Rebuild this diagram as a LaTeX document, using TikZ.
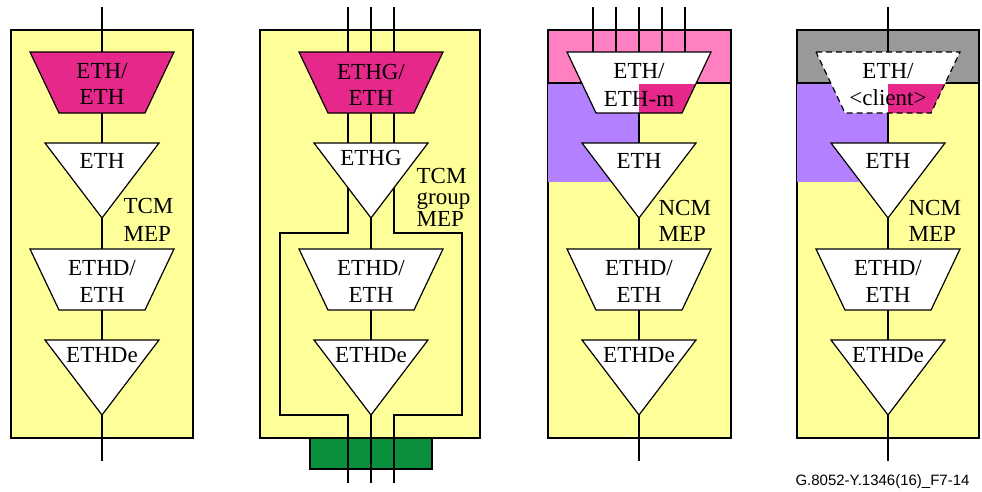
\documentclass[tikz,border=0pt]{standalone}
\usepackage{fontspec}
\setmainfont{Liberation Serif}
\newfontfamily\capfont{Liberation Sans}
\definecolor{panelyellow}{HTML}{FFFF99}
\definecolor{adaptpink}{HTML}{E6288A}
\definecolor{bandpink}{HTML}{FF80C0}
\definecolor{regionpurple}{HTML}{B380FF}
\definecolor{bandgray}{HTML}{999999}
\definecolor{portgreen}{HTML}{0A8F3C}
\newcommand\trapshape[2]{({#1-72},#2) -- ({#1+72},#2) -- ({#1+43},{#2+61}) -- ({#1-43},{#2+61}) -- cycle}
\newcommand\trishape[2]{({#1-57},#2) -- ({#1+57},#2) -- (#1,{#2+75}) -- cycle}
\begin{document}
\begin{tikzpicture}[x=1pt,y=-1pt,line width=1.2pt,
  panel/.style={fill=panelyellow,draw=black},
  wire/.style={draw=black},
  shapebox/.style={draw=black,fill=white},
  lbl/.style={font=\fontsize{23}{23}\selectfont,inner sep=0pt,anchor=base},
  side/.style={font=\fontsize{23}{23}\selectfont,inner sep=0pt,anchor=base west},
  dashline/.style={dash pattern=on 6pt off 4pt}]
\useasboundingbox (0,0) rectangle (982,491);

% panels
\path[panel] (11,30) rectangle (193,438);
\path[panel] (260,30) rectangle (480,438);
\path[panel] (548,30) rectangle (731,438);
\path[panel] (797,30) rectangle (979,438);

% bands and regions
\path[fill=bandpink,draw=black] (548,30) rectangle (731,83);
\fill[regionpurple] (548,84) rectangle (639,182);
\path[fill=bandgray,draw=black] (797,30) rectangle (979,83);
\fill[regionpurple] (797,84) rectangle (888,182);
\path[fill=portgreen,draw=black] (310,438) rectangle (432,469);

% free wire ends
\foreach \cx/\n in {102/a,639/c,888/d}{
  \coordinate (\n top) at (\cx,7);
  \coordinate (\n bot) at (\cx,461);
  \draw[wire] (\n top) -- (\n bot);
}
\coordinate (btop) at (371,7);
\coordinate (bbot) at (371,483);
\draw[wire] (btop) -- (bbot);
% panel 2 group wires
\coordinate (bltop) at (348,7);
\coordinate (blbot) at (348,483);
\coordinate (brtop) at (394,7);
\coordinate (brbot) at (394,483);
\draw[wire] (bltop) -- (348,233) -- (280,233) -- (280,415) -- (348,415) -- (blbot);
\draw[wire] (brtop) -- (394,233) -- (462,233) -- (462,415) -- (394,415) -- (brbot);
% panel 3 extra wires
\foreach \x in {593,616,662,685}{
  \coordinate (w\x) at (\x,7);
  \coordinate (v\x) at (\x,52);
  \draw[wire] (w\x) -- (v\x);
}

% top adaptation functions
\path[shapebox,fill=adaptpink] \trapshape{102}{52};
\node[lbl] (a1) at (102,78) {ETH/};
\node[lbl] (a2) at (102,104) {ETH};
\path[shapebox,fill=adaptpink] \trapshape{371}{52};
\node[lbl] (b1) at (371,79) {ETHG/};
\node[lbl] (b2) at (371,105) {ETH};

\path[fill=white] \trapshape{639}{52};
\begin{scope}
  \clip \trapshape{639}{52};
  \fill[adaptpink] (639,84) rectangle (720,120);
\end{scope}
\draw \trapshape{639}{52};
\node[lbl] (c1) at (639,78) {ETH/};
\node[lbl] (c2) at (639,106) {ETH-m};

\path[fill=white] \trapshape{888}{52};
\begin{scope}
  \clip \trapshape{888}{52};
  \fill[adaptpink] (888,84) rectangle (970,120);
\end{scope}
\draw[dashline] \trapshape{888}{52};
\node[lbl] (d1) at (888,78) {ETH/};
\node[lbl] (d2) at (888,105) {<client>};

% termination functions
\path[shapebox] \trishape{102}{143};
\node[lbl] (a3) at (102,168) {ETH};
\path[shapebox] \trishape{371}{143};
\node[lbl] (b3) at (371,165) {ETHG};
\path[shapebox] \trishape{639}{143};
\node[lbl] (c3) at (639,168) {ETH};
\path[shapebox] \trishape{888}{143};
\node[lbl] (d3) at (888,168) {ETH};

% MEP labels
\node[side] (a4) at (123,213) {TCM};
\node[side] (a5) at (123,241) {MEP};
\node[font=\fontsize{23}{21}\selectfont,inner sep=0pt,anchor=north west,align=left] (b4) at (416,168) {TCM\\group\\[1pt]MEP};
\node[side] (c4) at (658,215) {NCM};
\node[side] (c5) at (658,241) {MEP};
\node[side] (d4) at (908,215) {NCM};
\node[side] (d5) at (908,241) {MEP};

% lower functions
\foreach \cx/\n in {102/a,371/b,639/c,888/d}{
  \path[shapebox] \trapshape{\cx}{249};
  \node[lbl] (\n 6) at (\cx,275) {ETHD/};
  \node[lbl] (\n 7) at (\cx,302) {ETH};
  \path[shapebox] \trishape{\cx}{340};
  \node[lbl] (\n 8) at (\cx,362) {ETHDe};
}

\node[font=\capfont\fontsize{15}{15}\selectfont,inner sep=0pt,anchor=base] (cap) at (882.5,485) {G.8052-Y.1346(16)\_F7-14};
\end{tikzpicture}
\end{document}
